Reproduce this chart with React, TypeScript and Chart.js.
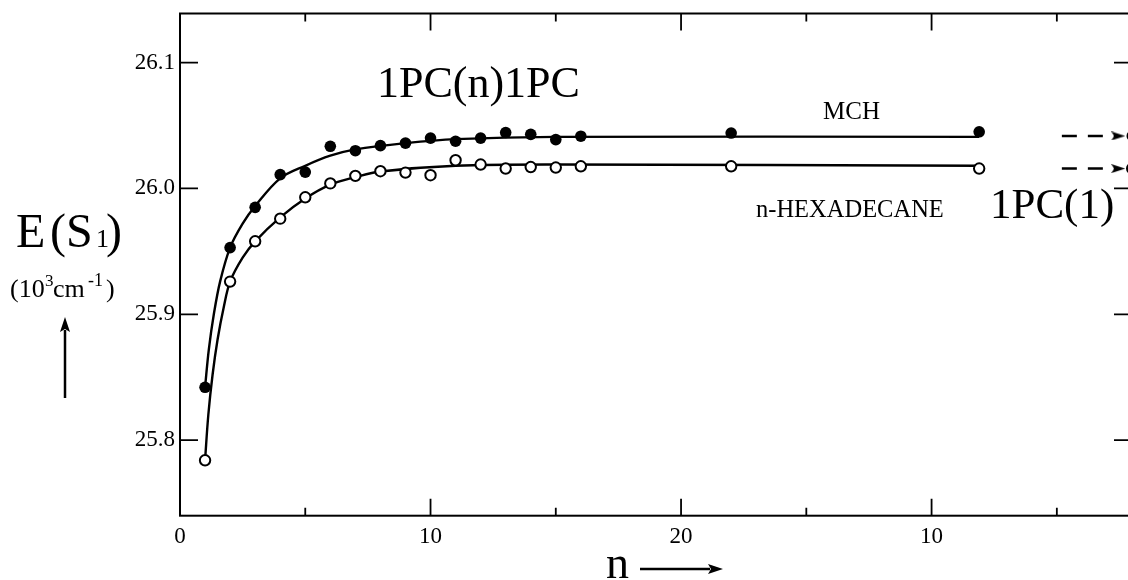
import React, { useEffect, useRef } from 'react';
import { Chart, registerables } from 'chart.js';
Chart.register(...registerables);

// ---- data ----
const nValues = [1, 2, 3, 4, 5, 6, 7, 8, 9, 10, 11, 12, 13, 14, 15, 16, 22, 31.9];
const mchValues = [25.842, 25.953, 25.985, 26.011, 26.013, 26.0335, 26.03, 26.034, 26.036, 26.04, 26.0375, 26.04, 26.0444, 26.043, 26.0388, 26.0415, 26.044, 26.045];
const hexValues = [25.784, 25.926, 25.958, 25.976, 25.993, 26.004, 26.01, 26.0137, 26.0126, 26.0105, 26.0224, 26.019, 26.0158, 26.017, 26.0166, 26.0176, 26.0176, 26.0158];

const mchFitN = [1.0, 1.15, 1.35, 1.6, 2.0, 2.5, 3.0, 4.0, 5.0, 6.0, 7.0, 9.0, 11.0, 15.0, 31.9];
const mchFitValues = [25.842, 25.872, 25.9, 25.926, 25.953, 25.972, 25.986, 26.008, 26.018, 26.026, 26.031, 26.036, 26.0392, 26.041, 26.041];
const hexFitN = [1.0, 1.13, 1.3, 1.5, 1.75, 2.0, 2.5, 3.0, 4.0, 5.0, 6.0, 7.0, 8.0, 11.0, 15.0, 31.9];
const hexFitValues = [25.784, 25.82, 25.852, 25.88, 25.906, 25.926, 25.945, 25.958, 25.977, 25.992, 26.003, 26.009, 26.0135, 26.018, 26.019, 26.018];

const monomerArrowN = [35.2, 37.45];
const monomerEdgeN = 38;
const monomerMch = 26.0417;
const monomerHex = 26.0158;

const xMajorTicks = [0, 10, 20, 30];
const xMajorLabels = ['0', '10', '20', '10'];
const xMinorTicks = [5, 15, 25, 35];
const yMajorTicks = [25.8, 25.9, 26.0, 26.1];

const X_MIN = 0;
const X_MAX = 38;
const Y_MIN = 25.74;
const Y_MAX = 26.139;

const SERIF = '"Liberation Serif", "DejaVu Serif", serif';

function pts(xs: number[], ys: number[]) {
  return xs.map((x, i) => ({ x, y: ys[i] }));
}

function makeArrowHead(): HTMLCanvasElement {
  const c = document.createElement('canvas');
  c.width = 14;
  c.height = 9;
  const g = c.getContext('2d')!;
  g.fillStyle = '#000';
  g.beginPath();
  g.moveTo(0, 0);
  g.lineTo(14, 4.5);
  g.lineTo(0, 9);
  g.lineTo(3, 4.5);
  g.closePath();
  g.fill();
  return c;
}

function arrow(ctx: CanvasRenderingContext2D, x1: number, y1: number, x2: number, y2: number) {
  const ang = Math.atan2(y2 - y1, x2 - x1);
  const hl = 15;
  const hw = 5;
  ctx.save();
  ctx.strokeStyle = '#000';
  ctx.fillStyle = '#000';
  ctx.lineWidth = 2.5;
  ctx.beginPath();
  ctx.moveTo(x1, y1);
  ctx.lineTo(x2 - Math.cos(ang) * (hl - 2), y2 - Math.sin(ang) * (hl - 2));
  ctx.stroke();
  ctx.translate(x2, y2);
  ctx.rotate(ang);
  ctx.beginPath();
  ctx.moveTo(0, 0);
  ctx.lineTo(-hl, -hw);
  ctx.lineTo(-hl + 3, 0);
  ctx.lineTo(-hl, hw);
  ctx.closePath();
  ctx.fill();
  ctx.restore();
}

const framePlugin = {
  id: 'frameTicks',
  afterDraw(chart: any) {
    const { ctx, chartArea: a, scales } = chart;
    const xs = scales.x;
    const ys = scales.y;
    ctx.save();
    ctx.strokeStyle = '#000';
    ctx.lineWidth = 2;
    ctx.strokeRect(a.left, a.top, a.right - a.left, a.bottom - a.top);
    ctx.lineWidth = 1.8;
    ctx.beginPath();
    xMajorTicks.forEach((v) => {
      const px = xs.getPixelForValue(v);
      ctx.moveTo(px, a.bottom);
      ctx.lineTo(px, a.bottom - 17);
      ctx.moveTo(px, a.top);
      ctx.lineTo(px, a.top + 17);
    });
    xMinorTicks.forEach((v) => {
      const px = xs.getPixelForValue(v);
      ctx.moveTo(px, a.bottom);
      ctx.lineTo(px, a.bottom - 8);
      ctx.moveTo(px, a.top);
      ctx.lineTo(px, a.top + 8);
    });
    yMajorTicks.forEach((v) => {
      const py = ys.getPixelForValue(v);
      ctx.moveTo(a.left, py);
      ctx.lineTo(a.left + 18, py);
      ctx.moveTo(a.right, py);
      ctx.lineTo(a.right - 18, py);
    });
    ctx.stroke();
    ctx.restore();
  },
};

const textPlugin = {
  id: 'annotTexts',
  afterDraw(chart: any) {
    const { ctx } = chart;
    ctx.save();
    ctx.fillStyle = '#000';
    ctx.textAlign = 'left';
    ctx.textBaseline = 'alphabetic';

    ctx.font = `44px ${SERIF}`;
    ctx.fillText('1PC(n)1PC', 377, 97);

    ctx.font = `25px ${SERIF}`;
    ctx.fillText('MCH', 823, 119);

    ctx.font = `24.5px ${SERIF}`;
    ctx.fillText('n-HEXADECANE', 756, 216.5);

    ctx.font = `43px ${SERIF}`;
    ctx.fillText('1PC(1)', 990, 218);

    // y-axis title E(S1)
    ctx.font = `48px ${SERIF}`;
    ctx.fillText('E', 16, 247);
    ctx.fillText('(', 50, 247);
    ctx.fillText('S', 66, 247);
    ctx.font = `26px ${SERIF}`;
    ctx.fillText('1', 96, 247);
    ctx.font = `48px ${SERIF}`;
    ctx.fillText(')', 106, 247);

    // (10^3 cm^-1)
    ctx.font = `26px ${SERIF}`;
    ctx.fillText('(10', 10, 297);
    ctx.font = `17px ${SERIF}`;
    ctx.fillText('3', 45, 286);
    ctx.font = `26px ${SERIF}`;
    ctx.fillText('cm', 53, 297);
    ctx.font = `18px ${SERIF}`;
    ctx.fillText('-1', 88, 286);
    ctx.font = `26px ${SERIF}`;
    ctx.fillText(')', 106, 297);

    arrow(ctx, 65, 398, 65, 317);

    // x-axis title
    ctx.font = `46px ${SERIF}`;
    ctx.fillText('n', 606, 578);
    arrow(ctx, 640, 569, 723, 569);

    ctx.restore();
  },
};

export default function App() {
  const ref = useRef<HTMLCanvasElement | null>(null);

  useEffect(() => {
    if (!ref.current) return;
    const head = makeArrowHead();
    const chart = new Chart(ref.current, {
      type: 'scatter',
      data: {
        datasets: [
          {
            label: 'MCH',
            data: pts(nValues, mchValues),
            backgroundColor: '#000',
            borderColor: '#000',
            borderWidth: 0,
            pointRadius: 5.8,
            showLine: false,
            order: 0,
          },
          {
            label: 'n-HEXADECANE',
            data: pts(nValues, hexValues),
            backgroundColor: '#fff',
            borderColor: '#000',
            borderWidth: 2,
            pointRadius: 5.2,
            showLine: false,
            order: 0,
          },
          {
            label: 'MCH fit',
            data: pts(mchFitN, mchFitValues),
            borderColor: '#000',
            borderWidth: 2.4,
            pointRadius: 0,
            showLine: true,
            tension: 0.35,
            order: 2,
          },
          {
            label: 'hex fit',
            data: pts(hexFitN, hexFitValues),
            borderColor: '#000',
            borderWidth: 2.4,
            pointRadius: 0,
            showLine: true,
            tension: 0.35,
            order: 2,
          },
          {
            label: 'monomer MCH',
            data: monomerArrowN.map((x) => ({ x, y: monomerMch })),
            borderColor: '#000',
            backgroundColor: '#000',
            borderWidth: 2.4,
            borderDash: [15, 11],
            showLine: true,
            pointRadius: [0, 5],
            pointStyle: ['circle', head] as any,
            order: 1,
          },
          {
            label: 'monomer hex',
            data: monomerArrowN.map((x) => ({ x, y: monomerHex })),
            borderColor: '#000',
            backgroundColor: '#000',
            borderWidth: 2.4,
            borderDash: [15, 11],
            showLine: true,
            pointRadius: [0, 5],
            pointStyle: ['circle', head] as any,
            order: 1,
          },
          {
            label: 'monomer edge MCH',
            data: [{ x: monomerEdgeN, y: monomerMch }],
            backgroundColor: '#000',
            borderColor: '#000',
            borderWidth: 0,
            pointRadius: 5.5,
            showLine: false,
            clip: false as any,
            order: 0,
          },
          {
            label: 'monomer edge hex',
            data: [{ x: monomerEdgeN, y: monomerHex }],
            backgroundColor: '#fff',
            borderColor: '#000',
            borderWidth: 2,
            pointRadius: 5,
            showLine: false,
            clip: false as any,
            order: 0,
          },
        ],
      },
      options: {
        animation: false,
        responsive: false,
        devicePixelRatio: 1,
        events: [],
        layout: { padding: { top: 13.5, right: 8, bottom: 0, left: 0 } },
        plugins: {
          legend: { display: false },
          tooltip: { enabled: false },
          title: { display: false },
        },
        scales: {
          x: {
            type: 'linear',
            min: X_MIN,
            max: X_MAX,
            grid: { display: false, drawTicks: false },
            border: { display: false },
            afterFit: (s: any) => {
              s.height = 64.3;
              s.paddingLeft = 0;
              s.paddingRight = 0;
            },
            afterBuildTicks: (s: any) => {
              s.ticks = [...xMajorTicks, ...xMinorTicks].sort((a, b) => a - b).map((v) => ({ value: v }));
            },
            ticks: {
              padding: 7,
              maxRotation: 0,
              autoSkip: false,
              color: '#000',
              font: { family: SERIF, size: 23 },
              callback: (v: any) => {
                const i = xMajorTicks.indexOf(Number(v));
                return i >= 0 ? xMajorLabels[i] : '';
              },
            },
          },
          y: {
            type: 'linear',
            min: Y_MIN,
            max: Y_MAX,
            grid: { display: false, drawTicks: false },
            border: { display: false },
            afterFit: (s: any) => {
              s.width = 180;
              s.paddingTop = 0;
              s.paddingBottom = 0;
            },
            afterBuildTicks: (s: any) => {
              s.ticks = yMajorTicks.map((v) => ({ value: v }));
            },
            ticks: {
              padding: 5,
              autoSkip: false,
              color: '#000',
              font: { family: SERIF, size: 23 },
              callback: (v: any) => Number(v).toFixed(1),
            },
          },
        },
      },
      plugins: [framePlugin, textPlugin],
    } as any);
    return () => chart.destroy();
  }, []);

  return (
    <div style={{ position: 'fixed', left: 0, top: 0, width: 1128, height: 580, overflow: 'hidden', background: '#fff' }}>
      <canvas ref={ref} width={1140} height={580} style={{ display: 'block', width: 1140, height: 580 }} />
    </div>
  );
}
